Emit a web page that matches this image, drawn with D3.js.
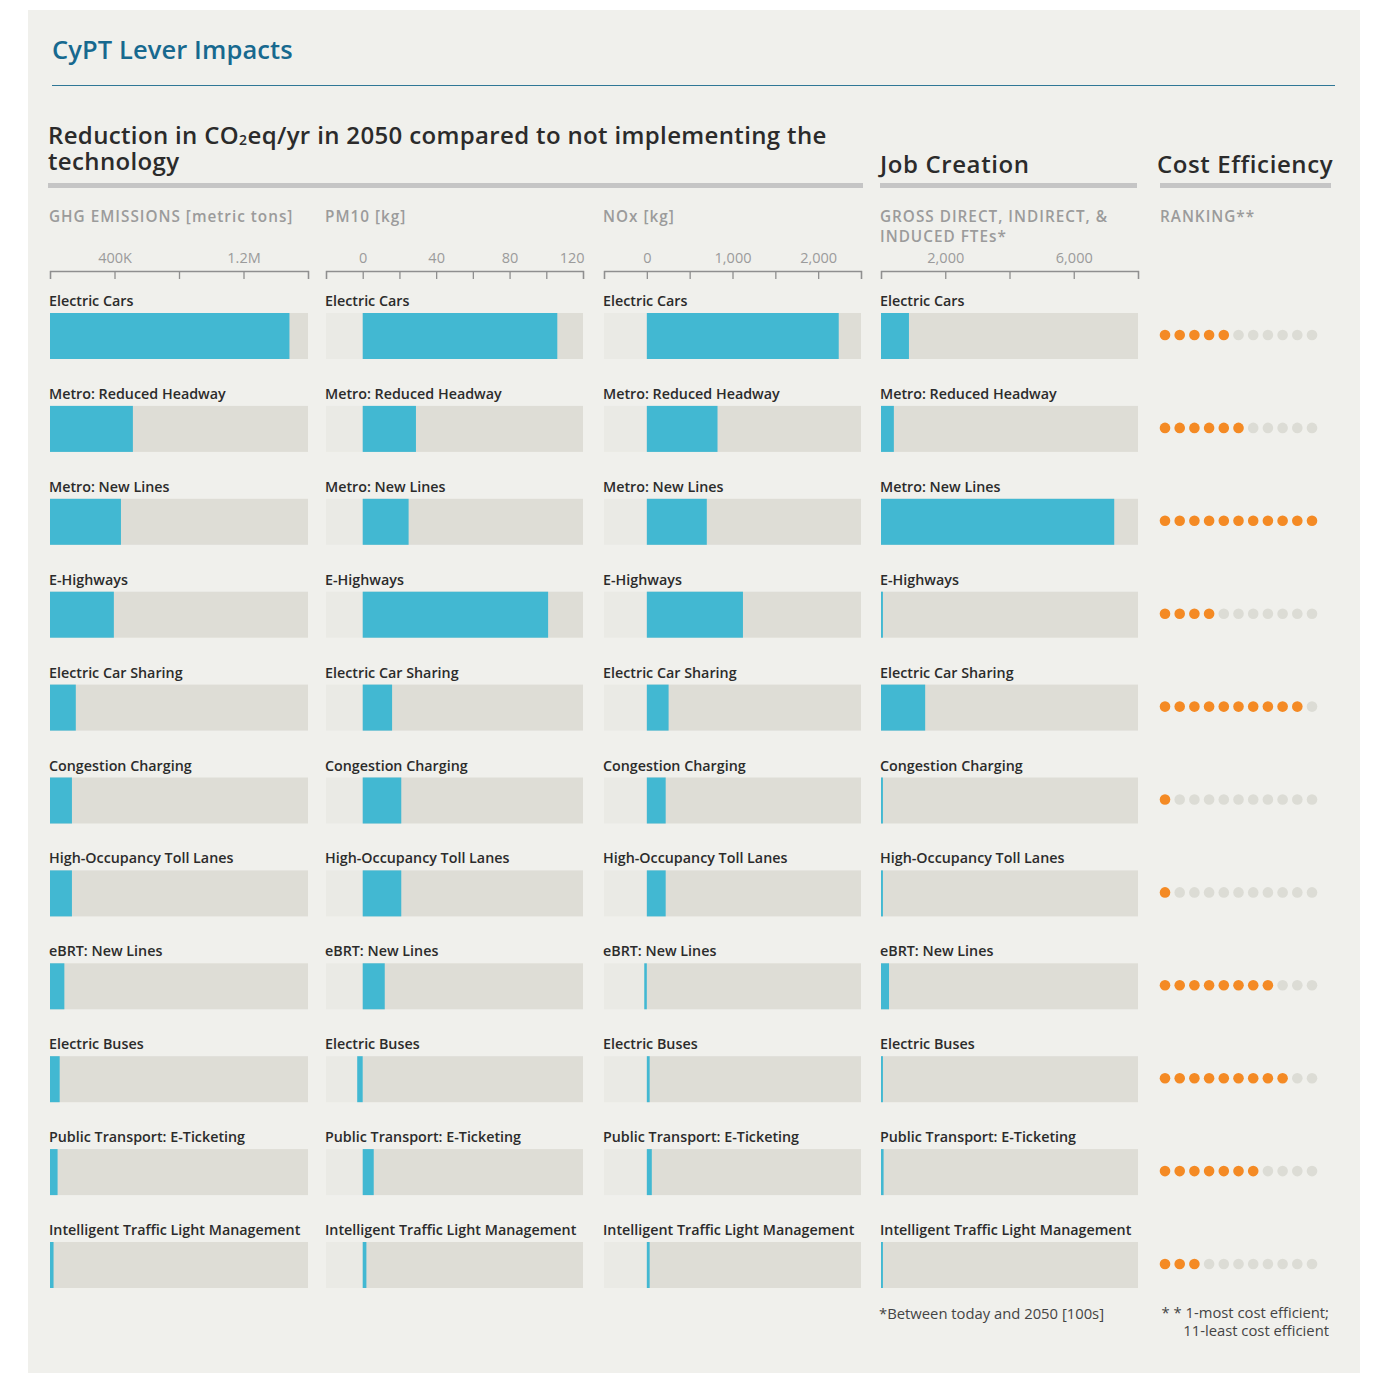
<!DOCTYPE html>
<html><head><meta charset="utf-8">
<script src="https://cdn.jsdelivr.net/npm/d3@7"></script>
<style>
body{margin:0;background:#fff;}
svg{display:block;}
text{font-family:"Open Sans","Noto Sans",sans-serif;}
</style>
</head><body><svg id="chart" width="1373" height="1374"></svg>
<script>
// ---------- DATA ----------
const levers = ["Electric Cars","Metro: Reduced Headway","Metro: New Lines","E-Highways","Electric Car Sharing","Congestion Charging","High-Occupancy Toll Lanes","eBRT: New Lines","Electric Buses","Public Transport: E-Ticketing","Intelligent Traffic Light Management"];
const ghgValues  = [1485000, 514000, 440000, 396000, 160000, 136000, 136000, 89000, 60000, 47000, 22000];
const pm10Values = [106, 29, 25, 101, 16, 21, 21, 12, -3, 6, 2];
const noxValues  = [2240, 825, 700, 1122, 254, 220, 220, -30, 33, 58, 33];
const jobValues  = [870, 400, 7260, 60, 1375, 60, 60, 250, 60, 80, 60];
const costRanks  = [5, 6, 11, 4, 10, 1, 1, 8, 9, 7, 3];
const rankSlots  = d3.range(1, 12);

const ghgTicks = [0, 400000, 800000, 1200000, 1600000];
const ghgTickLabels = [400000, 1200000];
const pm10Ticks = [-20, 0, 20, 40, 60, 80, 100, 120];
const pm10TickLabels = [0, 40, 80, 120];
const noxTicks = [-500, 0, 500, 1000, 1500, 2000, 2500];
const noxTickLabels = [0, 1000, 2000];
const jobTicks = [0, 2000, 4000, 6000, 8000];
const jobTickLabels = [2000, 6000];

// ---------- STYLE ----------
const C = {
  bg: "#f0f0ec", bar: "#42b8d2", track: "#deddd6", trackNeg: "#eaeae5",
  title: "#17698f", dark: "#2b2b2b", sub: "#9b9b9b", axis: "#8f8f8f",
  rule: "#c5c5c5", orange: "#f48a24", dotOff: "#dcdcd5"
};

const svg = d3.select("#chart");
svg.append("rect").attr("width", 1373).attr("height", 1374).attr("fill", "#fff");
svg.append("rect").attr("x", 28).attr("y", 10).attr("width", 1332).attr("height", 1363).attr("fill", C.bg);

// Title
svg.append("text").attr("x", 52).attr("y", 59).attr("fill", C.title)
  .attr("font-size", 25.5).attr("font-weight", 600).attr("letter-spacing", 0.1).text("CyPT Lever Impacts");
svg.append("line").attr("x1", 52).attr("x2", 1335).attr("y1", 85.5).attr("y2", 85.5)
  .attr("stroke", "#2f7796").attr("stroke-width", 1.2);

// Section headings
const headSize = 24;
const h1 = svg.append("text").attr("x", 48).attr("y", 144).attr("fill", C.dark)
  .attr("font-size", headSize).attr("font-weight", 600).attr("letter-spacing", 0.35);
h1.append("tspan").text("Reduction in CO");
h1.append("tspan").attr("font-size", 14).attr("dy", 1).text("2");
h1.append("tspan").attr("dy", -1).text("eq/yr in 2050 compared to not implementing the");
h1.append("tspan").attr("x", 48).attr("dy", 26).text("technology");
svg.append("text").attr("x", 880).attr("y", 173).attr("fill", C.dark)
  .attr("font-size", headSize).attr("font-weight", 600).attr("letter-spacing", 0.6).text("Job Creation");
svg.append("text").attr("x", 1157).attr("y", 173).attr("fill", C.dark)
  .attr("font-size", headSize).attr("font-weight", 600).attr("letter-spacing", 0.6).text("Cost Efficiency");
[[48, 863], [880, 1137], [1160, 1331]].forEach(([a, b]) => {
  svg.append("rect").attr("x", a).attr("y", 183).attr("width", b - a).attr("height", 5).attr("fill", C.rule);
});

// Row layout
const rowY = d3.scaleBand().domain(levers).range([287, 287 + 11 * 92.9]);

const fmtGhg = d => d >= 1e6 ? d3.format(".1f")(d / 1e6) + "M" : (d / 1e3) + "K";
const fmtComma = d3.format(",");

const panels = [
  {values: ghgValues, ticks: ghgTicks, labels: ghgTickLabels, domain: [0, 1600000], x0: 50, x1: 308,
   subtitle: ["GHG EMISSIONS [metric tons]"], fmt: fmtGhg},
  {values: pm10Values, ticks: pm10Ticks, labels: pm10TickLabels, domain: [-20, 120], x0: 326, x1: 583,
   subtitle: ["PM10 [kg]"], fmt: d => String(d)},
  {values: noxValues, ticks: noxTicks, labels: noxTickLabels, domain: [-500, 2500], x0: 604, x1: 861,
   subtitle: ["NOx [kg]"], fmt: fmtComma},
  {values: jobValues, ticks: jobTicks, labels: jobTickLabels, domain: [0, 8000], x0: 881, x1: 1138,
   subtitle: ["GROSS DIRECT, INDIRECT, &", "INDUCED FTEs*"], fmt: fmtComma}
];

panels.forEach(p => {
  const x = d3.scaleLinear().domain(p.domain).range([p.x0, p.x1]);
  const g = svg.append("g");
  p.subtitle.forEach((s, i) => {
    g.append("text").attr("x", p.x0 - 1).attr("y", 222 + i * 20).attr("fill", C.sub)
      .attr("font-size", 15.3).attr("font-weight", 600).attr("letter-spacing", 1.0).text(s);
  });
  const axis = d3.axisTop(x).tickValues(p.ticks)
    .tickSizeInner(-8).tickSizeOuter(-8).tickPadding(8)
    .tickFormat(d => p.labels.includes(d) ? p.fmt(d) : "");
  const ag = g.append("g").attr("transform", "translate(0,271)").call(axis);
  ag.selectAll("path,line").attr("stroke", C.axis).attr("stroke-width", 1.3);
  ag.selectAll("text").attr("fill", C.sub).attr("font-size", 14.5).attr("font-family", '"Open Sans",sans-serif')
    .attr("text-anchor", d => d === p.domain[1] ? "end" : "middle")
    .attr("dx", d => d === p.domain[1] ? 1 : 0);

  levers.forEach((name, i) => {
    const y0 = rowY(name);
    const v = p.values[i];
    g.append("text").attr("x", p.x0 - 1).attr("y", y0 + 19).attr("fill", C.dark)
      .attr("font-size", 14.3).attr("font-weight", 600).text(name);
    if (p.domain[0] < 0) {
      g.append("rect").attr("x", x(p.domain[0])).attr("y", y0 + 26)
        .attr("width", x(0) - x(p.domain[0])).attr("height", 46).attr("fill", C.trackNeg);
    }
    g.append("rect").attr("x", x(Math.max(0, p.domain[0]))).attr("y", y0 + 26)
      .attr("width", x(p.domain[1]) - x(Math.max(0, p.domain[0]))).attr("height", 46).attr("fill", C.track);
    g.append("rect").attr("x", x(Math.min(0, v))).attr("y", y0 + 26)
      .attr("width", Math.abs(x(v) - x(0))).attr("height", 46).attr("fill", C.bar);
  });
});

// Cost efficiency
svg.append("text").attr("x", 1160).attr("y", 222).attr("fill", C.sub)
  .attr("font-size", 15.3).attr("font-weight", 600).attr("letter-spacing", 1.0).text("RANKING**");
const dotX = d3.scaleLinear().domain([1, 11]).range([1165, 1312]);
levers.forEach((name, i) => {
  const cy = rowY(name) + 26 + 22;
  svg.append("g").selectAll("circle").data(rankSlots).join("circle")
    .attr("cx", d => dotX(d)).attr("cy", cy).attr("r", 5.3)
    .attr("fill", d => d <= costRanks[i] ? C.orange : C.dotOff);
});

// Footnotes
svg.append("text").attr("x", 879).attr("y", 1319).attr("fill", "#444").attr("font-size", 14.8)
  .text("*Between today and 2050 [100s]");
svg.append("text").attr("x", 1329).attr("y", 1318).attr("fill", "#444").attr("font-size", 14.8)
  .attr("text-anchor", "end").text("* * 1-most cost efficient;");
svg.append("text").attr("x", 1329).attr("y", 1336).attr("fill", "#444").attr("font-size", 14.8)
  .attr("text-anchor", "end").text("11-least cost efficient");
</script>
</body></html>
